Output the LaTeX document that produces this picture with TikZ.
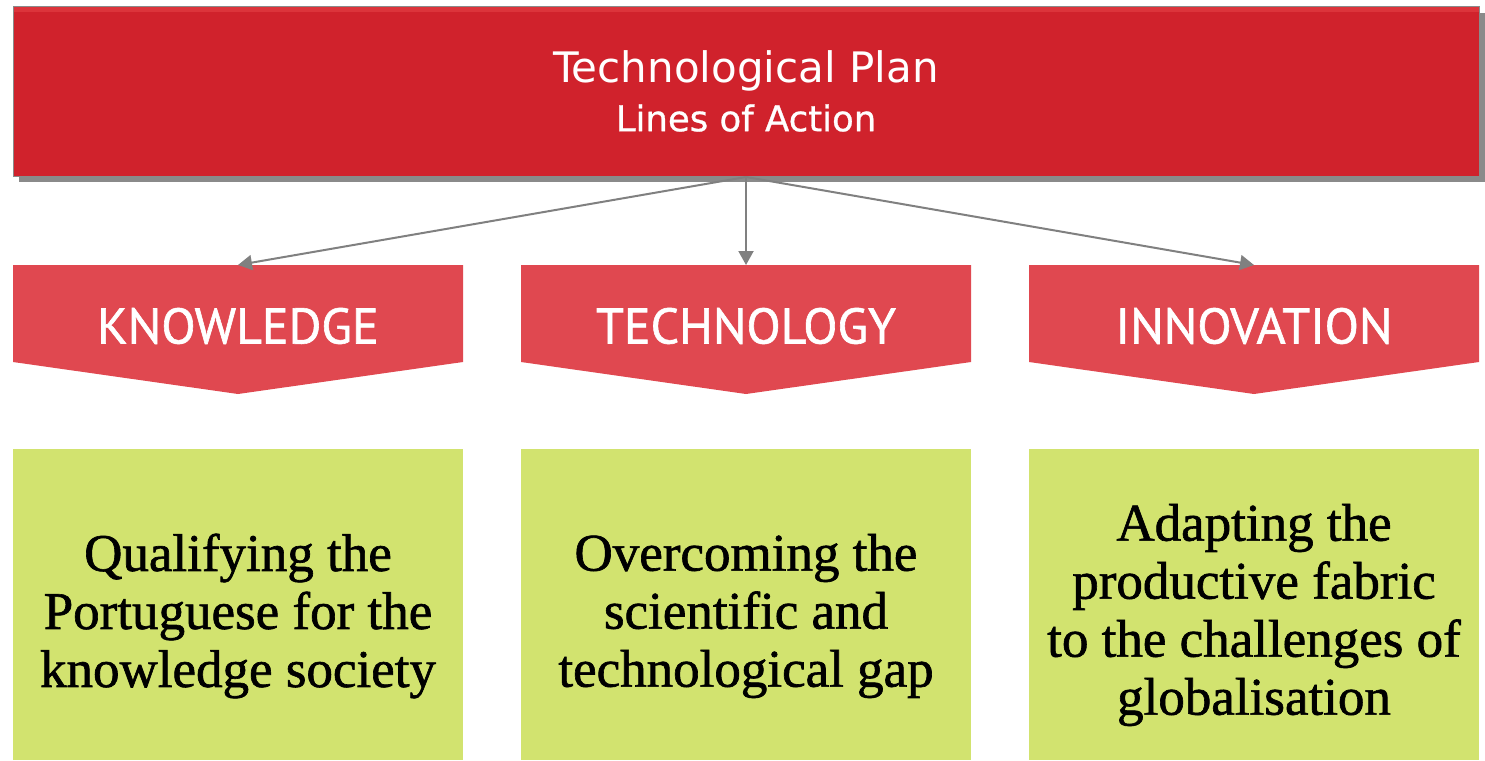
\documentclass[tikz,border=0pt]{standalone}
\usepackage{fontspec}
\setmainfont{Liberation Serif}[FakeBold=1.2]
\newfontfamily\hfont{PT Sans}[FakeBold=1.2]
\newfontfamily\tfont{DejaVu Sans}
\usetikzlibrary{arrows.meta}
\definecolor{topred}{HTML}{D0222C}
\definecolor{toplight}{HTML}{DC343B}
\definecolor{chevred}{HTML}{E04850}
\definecolor{boxgreen}{HTML}{D2E36F}
\definecolor{shadowgray}{HTML}{8A8A8A}
\definecolor{arrowgray}{HTML}{808080}
\tikzset{
  conn/.style={draw=arrowgray, line width=2pt, -{Triangle[length=14pt,width=15pt]}},
  chev/.style={fill=chevred, draw=none},
  greenbox/.style={fill=boxgreen, draw=none},
  chevtext/.style={text=white, font=\hfont\fontsize{50}{56}\selectfont},
  bodytext/.style={align=center, font=\fontsize{53}{58}\selectfont, text=black},
}
\begin{document}
\begin{tikzpicture}[x=1pt,y=-1pt]
\useasboundingbox (0,0) rectangle (1485,760);
% top box with shadow
\fill[shadowgray] (19,13) rectangle (1485,182);
\fill[topred] (13,7) rectangle (1479,176);
\fill[toplight] (13,7) rectangle (1479,12);
\draw[shadowgray, line width=1pt] (13,7) rectangle (1479,176);
\node[inner sep=0pt, minimum width=1466pt, minimum height=169pt] (plan) at (746,91.5) {};
\node[text=white, font=\tfont\fontsize{42}{48}\selectfont] (t1) at (746,71) {Technological Plan};
\node[text=white, font=\tfont\addfontfeature{FakeBold=0.8}\fontsize{35.5}{40}\selectfont] (t2) at (746,118) {Lines of Action};
% chevrons
\foreach \c/\n in {238/k,746/t,1254/i}{
  \fill[chev] (\c-225,265) -- (\c+225,265) -- (\c+225,362) -- (\c,394) -- (\c-225,362) -- cycle;
  \coordinate (\n top) at (\c,265);
  \fill[greenbox] (\c-225,449) rectangle (\c+225,760);
}
\node[chevtext] (kl) at (238,326) {KNOWLEDGE};
\node[chevtext] (tl) at (746,326) {TECHNOLOGY};
\node[chevtext] (il) at (1254,326) {INNOVATION};
% connectors
\coordinate (src) at (746,177);
\draw[conn] (src) -- (ktop);
\draw[conn] (src) -- (ttop);
\draw[conn] (src) -- (itop);
% green texts
\node[bodytext] (kb) at (238,616) {Qualifying the\\Portuguese for the\\knowledge society};
\node[bodytext] (tb) at (746,616) {Overcoming the\\scientific and\\technological gap};
\node[bodytext] (ib) at (1254,615) {Adapting the\\productive fabric\\to the challenges of\\globalisation};
\end{tikzpicture}
\end{document}
